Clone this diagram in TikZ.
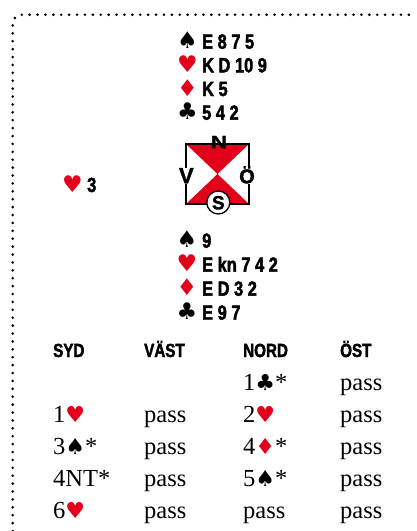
\documentclass[tikz,border=0pt]{standalone}
\usepackage{fontspec}
\setmainfont{Liberation Serif}
\newfontfamily\symfont{DejaVu Sans}
\newfontfamily\condfont[FakeStretch=0.80, UprightFont={* Bold}, FakeBold=2]{Liberation Sans}
\newfontfamily\boldsans[UprightFont={* Bold}, FakeBold=1.5]{Liberation Sans}
\newfontfamily\widesans[UprightFont={* Bold}, FakeStretch=1.25, FakeBold=1.5]{Liberation Sans}
\definecolor{suitred}{RGB}{226,0,26}
\newcommand\tSp{{\symfont\fontsize{22}{22}\selectfont ♠}}
\newcommand\tHe{{\symfont\fontsize{22}{22}\selectfont\color{suitred}♥}}
\newcommand\tDi{{\symfont\fontsize{22}{22}\selectfont\color{suitred}♦}}
\newcommand\tCl{{\symfont\fontsize{22}{22}\selectfont ♣}}
\tikzset{
  hand/.style={anchor=base west, inner sep=0pt, font=\condfont\fontsize{20.5}{20.5}\selectfont},
  suit/.style={anchor=base, inner sep=0pt, font=\symfont\fontsize{23}{23}\selectfont},
  redsuit/.style={suit, text=suitred},
  head/.style={anchor=base west, inner sep=0pt, font=\condfont\fontsize{19}{19}\selectfont},
  bid/.style={anchor=base west, inner sep=0pt, font=\fontsize{24.5}{24.5}\selectfont},
  dir/.style={inner sep=1pt, anchor=base, font=\boldsans\fontsize{22}{22}\selectfont},
  dotborder/.style={line width=2.9pt, line cap=round, dash pattern=on 0pt off 7.9pt},
}
\begin{document}
\begin{tikzpicture}[x=1pt, y=-1pt]
\useasboundingbox (0,0) rectangle (416,531);
% border
\draw[dotborder, rounded corners=9pt] (12.7,531) |- (416,14.7);
% North hand
\node[suit] (ns) at (187.5,48.7) {♠};
\node[hand] (nst) at (202,48.7) {E 8 7 5};
\node[redsuit] (nh) at (187.5,72.3) {♥};
\node[hand] (nht) at (202,72.3) {K D 10 9};
\node[redsuit] (nd) at (187.5,96) {♦};
\node[hand] (ndt) at (202,96) {K 5};
\node[suit] (nc) at (187.5,119.7) {♣};
\node[hand] (nct) at (202,119.7) {5 4 2};
% West hand
\node[redsuit] (wh) at (72.5,192) {♥};
\node[hand] (wht) at (87,192) {3};
% compass
\fill[suitred] (186,144) -- (249,144) -- (217.5,174) -- cycle;
\fill[suitred] (186,204) -- (249,204) -- (217.5,174) -- cycle;
\draw[line width=1.6pt] (186,144) rectangle (249,204);
\node[dir, font=\widesans\fontsize{18}{18}\selectfont] (cn) at (219,148.3) {N};
\node[dir, fill=white, inner sep=0.5pt] (cv) at (186.3,183.3) {V};
\node[dir, fill=white, inner sep=0.5pt, font=\boldsans\fontsize{20}{20}\selectfont] (co) at (247,183.3) {Ö};
\node[draw, circle, fill=white, line width=1.3pt, minimum size=23pt, inner sep=0pt] (cs) at (218.3,202.5) {};
\node[dir, font=\boldsans\fontsize{19}{19}\selectfont] (csl) at (218.3,209.3) {S};
% South hand
\node[suit] (ss) at (187,247.7) {♠};
\node[hand] (sst) at (202,247.7) {9};
\node[redsuit] (sh) at (187,271.7) {♥};
\node[hand] (sht) at (202,271.7) {E kn 7 4 2};
\node[redsuit] (sd) at (187,295.7) {♦};
\node[hand] (sdt) at (202,295.7) {E D 3 2};
\node[suit] (sc) at (187,319.7) {♣};
\node[hand] (sct) at (202,319.7) {E 9 7};
% bidding
\node[head] (h1) at (53,357) {SYD};
\node[head] (h2) at (144,357) {VÄST};
\node[head] (h3) at (243,357) {NORD};
\node[head] (h4) at (340,357) {ÖST};
\node[bid] (b13) at (243,390) {1\tCl*};
\node[bid] (b14) at (340,390) {pass};
\node[bid] (b21) at (53,422) {1\tHe};
\node[bid] (b22) at (144,422) {pass};
\node[bid] (b23) at (243,422) {2\tHe};
\node[bid] (b24) at (340,422) {pass};
\node[bid] (b31) at (53,454) {3\tSp*};
\node[bid] (b32) at (144,454) {pass};
\node[bid] (b33) at (243,454) {4\tDi*};
\node[bid] (b34) at (340,454) {pass};
\node[bid] (b41) at (53,486) {4NT*};
\node[bid] (b42) at (144,486) {pass};
\node[bid] (b43) at (243,486) {5\tSp*};
\node[bid] (b44) at (340,486) {pass};
\node[bid] (b51) at (53,518) {6\tHe};
\node[bid] (b52) at (144,518) {pass};
\node[bid] (b53) at (243,518) {pass};
\node[bid] (b54) at (340,518) {pass};
\end{tikzpicture}
\end{document}
